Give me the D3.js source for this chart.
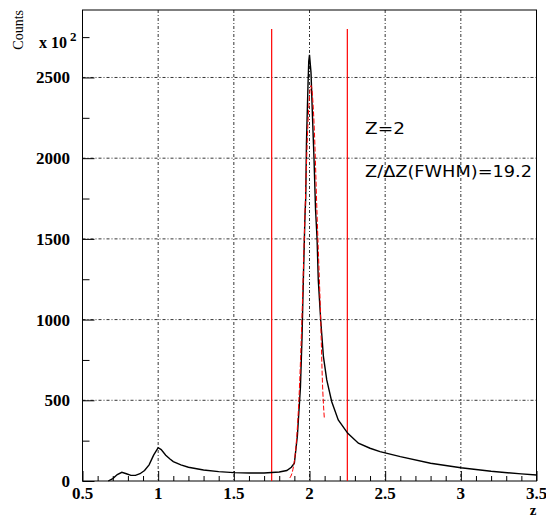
<!DOCTYPE html>
<html>
<head>
<meta charset="utf-8">
<script src="https://cdn.jsdelivr.net/npm/d3@7"></script>
<style>
  body { margin: 0; background: #fff; }
  svg { display: block; }
</style>
</head>
<body>
<div id="chart"></div>
<script>
// histogram (counts in units of 10^2)
const zValues = [0.67, 0.70, 0.73, 0.76, 0.79, 0.82, 0.85, 0.88, 0.91, 0.94, 0.97, 1.00, 1.02, 1.05, 1.08,
  1.10, 1.15, 1.20, 1.30, 1.40, 1.50, 1.60, 1.70, 1.75, 1.80, 1.85, 1.88, 1.90, 1.92, 1.94, 1.95, 1.96,
  1.97, 1.975, 1.98, 1.99, 1.995, 2.00, 2.01, 2.02, 2.03, 2.04, 2.05, 2.058, 2.074, 2.092, 2.114, 2.147,
  2.19, 2.253, 2.323, 2.40, 2.466, 2.60, 2.80, 3.00, 3.20, 3.40, 3.50];
const counts = [0, 15, 40, 54, 45, 35, 35, 45, 65, 100, 160, 206, 195, 160, 135,
  120, 100, 85, 68, 58, 52, 50, 50, 53, 56, 65, 85, 110, 280, 580, 870, 1270,
  1640, 1750, 2100, 2450, 2600, 2640, 2530, 2250, 1990, 1680, 1500, 1245, 997, 770, 626, 491,
  378, 295, 234, 203, 182, 151, 110, 82, 60, 44, 37];

// red fit curve
const fitZ = [1.87, 1.89, 1.91, 1.93, 1.95, 1.97, 1.99, 2.01, 2.03, 2.05, 2.074, 2.085, 2.098];
const fitCounts = [19, 70, 207, 504, 1007, 1650, 2219, 2450, 2219, 1650, 997, 626, 388];

// selection window
const cutZ = [1.75, 2.25];
const cutTop = 2800;

const xMajor = [0.5, 1, 1.5, 2, 2.5, 3, 3.5];
const yMajor = [0, 500, 1000, 1500, 2000, 2500];

const labels = ["Z=2", "Z/\u0394Z(FWHM)=19.2"];

const width = 546;
const height = 519;
const margin = {left: 82.5, right: 536.5, top: 10, bottom: 481};

const x = d3.scaleLinear().domain([0.5, 3.5]).range([margin.left, margin.right]);
const y = d3.scaleLinear().domain([0, 2918]).range([margin.bottom, margin.top]);

const svg = d3.select("#chart")
    .append("svg")
    .attr("width", width)
    .attr("height", height);

svg.append("rect")
    .attr("width", width)
    .attr("height", height)
    .attr("fill", "white");

const serif = "'Liberation Serif', 'Times New Roman', serif";

// grid
const grid = svg.append("g")
    .attr("stroke", "#000")
    .attr("stroke-width", 0.8)
    .attr("stroke-dasharray", "3,2,1,2");

grid.selectAll(".gx")
    .data(xMajor.slice(1, -1))
    .enter()
    .append("line")
    .attr("x1", d => x(d))
    .attr("x2", d => x(d))
    .attr("y1", margin.top)
    .attr("y2", margin.bottom);

grid.selectAll(".gy")
    .data(yMajor.slice(1))
    .enter()
    .append("line")
    .attr("x1", margin.left)
    .attr("x2", margin.right)
    .attr("y1", d => y(d))
    .attr("y2", d => y(d));

// frame
svg.append("rect")
    .attr("x", margin.left)
    .attr("y", margin.top)
    .attr("width", margin.right - margin.left)
    .attr("height", margin.bottom - margin.top)
    .attr("fill", "none")
    .attr("stroke", "#000")
    .attr("stroke-width", 1);

// x axis (ticks inside)
const xAxis = d3.axisTop(x)
    .tickValues(d3.range(0.5, 3.51, 0.1))
    .tickSize(5)
    .tickFormat("");

svg.append("g")
    .attr("transform", `translate(0,${margin.bottom})`)
    .call(xAxis)
    .call(g => g.select(".domain").remove())
    .call(g => g.selectAll(".tick line")
        .attr("y2", d => Math.abs(d * 2 - Math.round(d * 2)) < 1e-6 ? -10 : -5));

svg.append("g")
    .selectAll("text")
    .data(xMajor)
    .enter()
    .append("text")
    .attr("x", d => x(d))
    .attr("y", 499)
    .attr("text-anchor", "middle")
    .attr("font-family", serif)
    .attr("font-weight", "bold")
    .attr("font-size", 17)
    .text(d => d3.format("")(d));

// y axis (ticks inside)
const yAxis = d3.axisRight(y)
    .tickValues(d3.range(0, 2900, 250))
    .tickSize(7)
    .tickFormat("");

svg.append("g")
    .attr("transform", `translate(${margin.left},0)`)
    .call(yAxis)
    .call(g => g.select(".domain").remove())
    .call(g => g.selectAll(".tick line")
        .attr("x2", d => d % 500 === 0 ? 12 : 7));

svg.append("g")
    .selectAll("text")
    .data(yMajor)
    .enter()
    .append("text")
    .attr("x", 70)
    .attr("y", d => y(d) + 6)
    .attr("text-anchor", "end")
    .attr("font-family", serif)
    .attr("font-weight", "bold")
    .attr("font-size", 17)
    .text(d => d);

// multiplier
const mult = svg.append("text")
    .attr("x", 39)
    .attr("y", 48)
    .attr("font-family", serif)
    .attr("font-weight", "bold")
    .attr("font-size", 16);
mult.append("tspan").text("x 10");
mult.append("tspan")
    .attr("dx", 3)
    .attr("dy", -7)
    .attr("font-size", 13)
    .text("2");

// axis titles
svg.append("text")
    .attr("transform", "translate(23,10) rotate(-90)")
    .attr("text-anchor", "end")
    .attr("font-family", serif)
    .attr("font-size", 14)
    .text("Counts");

svg.append("text")
    .attr("x", 533)
    .attr("y", 515)
    .attr("text-anchor", "middle")
    .attr("font-family", serif)
    .attr("font-weight", "bold")
    .attr("font-size", 15)
    .text("z");

// selection lines
svg.append("g")
    .selectAll("line")
    .data(cutZ)
    .enter()
    .append("line")
    .attr("x1", d => x(d))
    .attr("x2", d => x(d))
    .attr("y1", y(cutTop))
    .attr("y2", y(0))
    .attr("stroke", "red")
    .attr("stroke-width", 1.2);

// histogram
const line = d3.line()
    .x(d => x(d[0]))
    .y(d => y(d[1]));

svg.append("path")
    .datum(d3.zip(zValues, counts))
    .attr("d", line)
    .attr("fill", "none")
    .attr("stroke", "#000")
    .attr("stroke-width", 1.4);

// fit
svg.append("path")
    .datum(d3.zip(fitZ, fitCounts))
    .attr("d", line.curve(d3.curveMonotoneX))
    .attr("fill", "none")
    .attr("stroke", "red")
    .attr("stroke-width", 1)
    .attr("stroke-dasharray", "5,2");

// annotations
svg.append("g")
    .selectAll("text")
    .data(labels)
    .enter()
    .append("text")
    .attr("x", 365)
    .attr("y", (d, i) => i === 0 ? 134 : 177)
    .attr("font-family", "'DejaVu Sans', sans-serif")
    .attr("font-size", 16.5)
    .attr("textLength", (d, i) => i === 0 ? 40 : 167)
    .attr("lengthAdjust", "spacingAndGlyphs")
    .text(d => d);
</script>
</body>
</html>
